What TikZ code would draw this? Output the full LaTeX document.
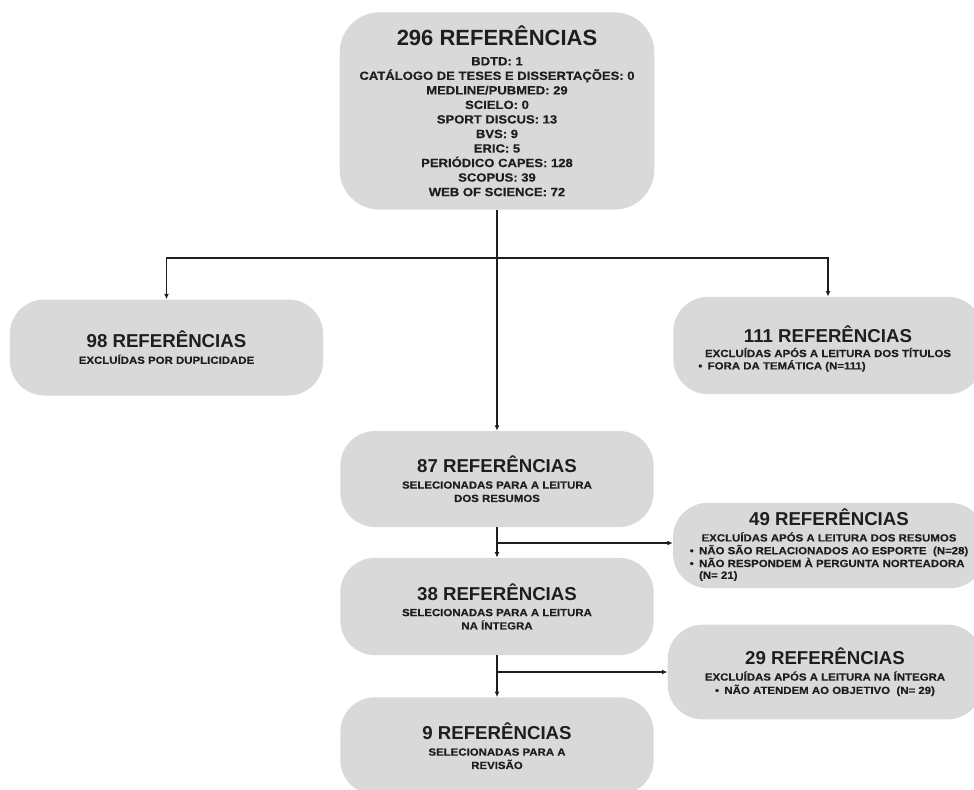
\documentclass[tikz,border=0pt]{standalone}
\usepackage{fontspec}
\setmainfont{Liberation Sans}
\newfontfamily\subfont[FakeStretch=1.1,FakeBold=0.4]{Liberation Sans}
\usetikzlibrary{arrows.meta,positioning,calc}
\definecolor{ink}{HTML}{1E1E1E}
\definecolor{panel}{HTML}{D9D9D9}
\tikzset{
  card/.style={rounded corners=26pt, fill=panel, align=center, inner sep=4pt, text=ink,
    minimum width=235pt, minimum height=72pt, font=\subfont\bfseries\fontsize{7.8}{10}\selectfont},
  arr/.style={-{Latex[length=4pt,width=3.6pt]}, line width=0.8pt, draw=ink},
}
\newcommand{\ttl}[1]{{\fontsize{14}{16}\selectfont\normalfont\bfseries #1}\\[2pt]}
\newcommand{\bitem}[1]{\textbullet\hspace{4pt}#1}

\begin{document}
\begin{tikzpicture}[x=0.75pt, y=0.75pt]
  \useasboundingbox (0,0) rectangle (974,-789);

  \node[card, minimum width=236pt, minimum height=148pt, rounded corners=30pt,
    font=\subfont\bfseries\fontsize{8.9}{10.9}\selectfont] (top) at (497,-111) {%
    {\fontsize{16.5}{18}\selectfont\normalfont\bfseries 296 REFERÊNCIAS}\\[4pt]
    BDTD: 1\\ CATÁLOGO DE TESES E DISSERTAÇÕES: 0\\ MEDLINE/PUBMED: 29\\ SCIELO: 0\\
    SPORT DISCUS: 13\\ BVS: 9\\ ERIC: 5\\ PERIÓDICO CAPES: 128\\ SCOPUS: 39\\ WEB OF SCIENCE: 72};

  \node[card] (dup) at (166.5,-347.5) {\ttl{98 REFERÊNCIAS}EXCLUÍDAS POR DUPLICIDADE};
  \node[card, minimum width=232pt, minimum height=73pt] (tit) at (828,-345.5) {%
    {\fontsize{14}{16}\selectfont\normalfont\bfseries\rule{0pt}{18pt}111 REFERÊNCIAS}\\[1pt]
    \renewcommand{\arraystretch}{0.8}\begin{tabular}[t]{@{}l@{}}
      \multicolumn{1}{@{}c@{}}{EXCLUÍDAS APÓS A LEITURA DOS TÍTULOS}\\
      \hspace*{-5pt}\bitem{FORA DA TEMÁTICA (N=111)}
    \end{tabular}};

  \node[card] (res87) at (497,-479) {\ttl{87 REFERÊNCIAS}SELECIONADAS PARA A LEITURA\\ DOS RESUMOS};
  \node[card, minimum width=234pt, minimum height=64pt] (exres) at (829,-545.5) {%
    {\fontsize{14}{16}\selectfont\normalfont\bfseries 49 REFERÊNCIAS}\\[2pt]
    \renewcommand{\arraystretch}{0.88}\begin{tabular}[t]{@{}l@{}}
      \multicolumn{1}{@{}c@{}}{EXCLUÍDAS APÓS A LEITURA DOS RESUMOS}\\
      \bitem{NÃO SÃO RELACIONADOS AO ESPORTE\ \ (N=28)}\\
      \bitem{NÃO RESPONDEM À PERGUNTA NORTEADORA}\\
      \phantom{\textbullet}\hspace{4pt}(N= 21)
    \end{tabular}};

  \node[card, minimum height=73pt] (int38) at (497,-606.5) {\ttl{38 REFERÊNCIAS}SELECIONADAS PARA A LEITURA\\ NA ÍNTEGRA};
  \node[card, minimum width=236pt, minimum height=71pt] (exint) at (825,-672) {%
    \ttl{29 REFERÊNCIAS}EXCLUÍDAS APÓS A LEITURA NA ÍNTEGRA\\ \bitem{NÃO ATENDEM AO OBJETIVO\ \ (N= 29)}};
  \node[card, minimum height=73pt] (fin) at (497,-746) {\ttl{9 REFERÊNCIAS}SELECIONADAS PARA A\\ REVISÃO};

  \coordinate (split1) at (497,-258);
  \coordinate (split2) at (497,-543);
  \coordinate (split3) at (497,-672);

  \draw[arr] (top) -- (res87);
  \draw[arr] (split1) -| (dup);
  \draw[arr] (split1) -| (tit);
  \draw[arr] (res87) -- (int38);
  \draw[arr] (split2) -- (split2 -| exres.west);
  \draw[arr] (int38) -- (fin);
  \draw[arr] (split3) -- (split3 -| exint.west);
\end{tikzpicture}
\end{document}
